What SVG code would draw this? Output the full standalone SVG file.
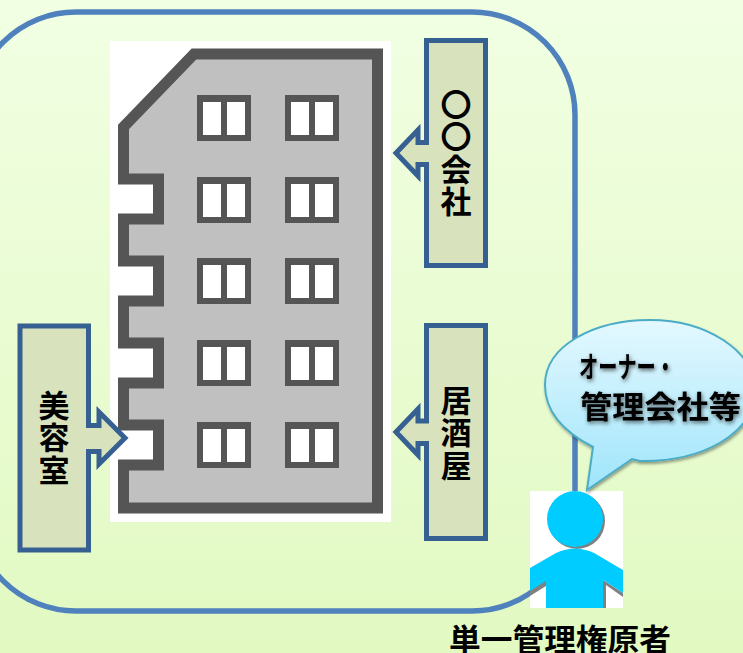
<svg xmlns="http://www.w3.org/2000/svg" width="743" height="653" viewBox="0 0 743 653">
<style>
.box{fill:#d8e2bc;stroke:#376092;stroke-width:5;stroke-linejoin:miter}
.t{font-family:"Noto Sans CJK JP","Noto Sans CJK SC",sans-serif;font-weight:700;font-size:31px;fill:#000;text-anchor:middle}
.tl{text-anchor:start}
.v{text-anchor:start;writing-mode:vertical-rl;letter-spacing:1.2px}
.frame{fill:#555}
.pane{fill:#fff}
.body{fill:#00ccff}
</style>
<defs>
<linearGradient id="bg" x1="0" y1="0" x2="0" y2="1"><stop offset="0" stop-color="#f1ffe3"/><stop offset="1" stop-color="#e2f9c2"/></linearGradient>
<linearGradient id="bubble" x1="0" y1="0" x2="0" y2="1"><stop offset="0" stop-color="#e4f8ff"/><stop offset="1" stop-color="#9fe5fb"/></linearGradient>
<filter id="sh" x="-10%" y="-10%" width="120%" height="120%"><feDropShadow dx="1" dy="2" stdDeviation="1.5" flood-color="#000" flood-opacity="0.4"/></filter>
<filter id="tsh" x="-10%" y="-20%" width="120%" height="150%"><feDropShadow dx="1" dy="2" stdDeviation="2" flood-color="#000" flood-opacity="0.6"/></filter>
<g id="win"><rect class="frame" x="0" y="0" width="54" height="46"/><rect class="pane" x="6" y="7" width="18" height="33"/><rect class="pane" x="30" y="7" width="18" height="33"/></g>
</defs>
<rect width="743" height="653" fill="url(#bg)"/>
<g id="connectors">
<rect x="-27" y="12" width="602" height="599" rx="103" ry="103" fill="none" stroke="#4f81bd" stroke-width="5.5"/>
</g>
<g id="building">
<rect x="110" y="41" width="281" height="481" fill="#fff"/>
<path d="M194,54 H377.5 V508 H123.5 V465 H158.5 V425 H123.5 V383 H158.5 V343 H123.5 V301 H158.5 V261 H123.5 V219 H158.5 V179 H123.5 V127 Z" fill="#c0c0c0" stroke="#555" stroke-width="11"/>
<use href="#win" x="197" y="95"/><use href="#win" x="285" y="95"/>
<use href="#win" x="197" y="177"/><use href="#win" x="285" y="177"/>
<use href="#win" x="197" y="258"/><use href="#win" x="285" y="258"/>
<use href="#win" x="197" y="340"/><use href="#win" x="285" y="340"/>
<use href="#win" x="197" y="422"/><use href="#win" x="285" y="422"/>
</g>
<g id="company">
<path class="box" d="M426.5,40.5 H485.5 V265.5 H426.5 V164.5 H418 V176 L396,153 L418,130 V142.5 H426.5 Z"/>
<text class="t v" x="456" y="89">〇〇会社</text>
</g>
<g id="izakaya">
<path class="box" d="M426.5,325.5 H485.5 V538.5 H426.5 V443.5 H418 V455 L396,432 L418,409 V421 H426.5 Z"/>
<text class="t v" x="456" y="385">居酒屋</text>
</g>
<g id="salon">
<path class="box" d="M20,326 H88.5 V425.5 H99 V412 L125,438 L99,464 V451.5 H88.5 V550 H20 Z"/>
<text class="t v" x="54" y="390">美容室</text>
</g>
<g id="person">
<rect x="530" y="491" width="93" height="117" fill="#fff"/>
<circle cx="577" cy="521" r="28" fill="#808080"/>
<circle cx="575" cy="519" r="28" class="body"/>
<path d="M530,590 L546,580 V586 L530,596 Z M603,580 L623,593 V597 L606,585 V608 H603 Z" fill="#808080"/>
<path class="body" d="M530,568 L556,553 Q575,544 594,553 L623,570 V593 L603,580 V608 H546 V581 L530,591 Z"/>
</g>
<g id="callout">
<path d="M593,447 C560,430 545,410 545,385 C545,345 595,320 650,320 C705,320 755,350 755,390 C755,435 700,462 640,461 L632,459 L587,490 Z" fill="url(#bubble)" stroke="#4bacc6" stroke-width="2" filter="url(#sh)"/>
<text class="t tl" x="579" y="378" style="font-size:29px" textLength="96" lengthAdjust="spacingAndGlyphs" filter="url(#tsh)">オーナー・</text>
<text class="t tl" x="580" y="418" filter="url(#tsh)" textLength="161" lengthAdjust="spacingAndGlyphs">管理会社等</text>
</g>
<g id="owner-label">
<text class="t" x="560" y="651" textLength="222" lengthAdjust="spacingAndGlyphs">単一管理権原者</text>
</g>
</svg>
